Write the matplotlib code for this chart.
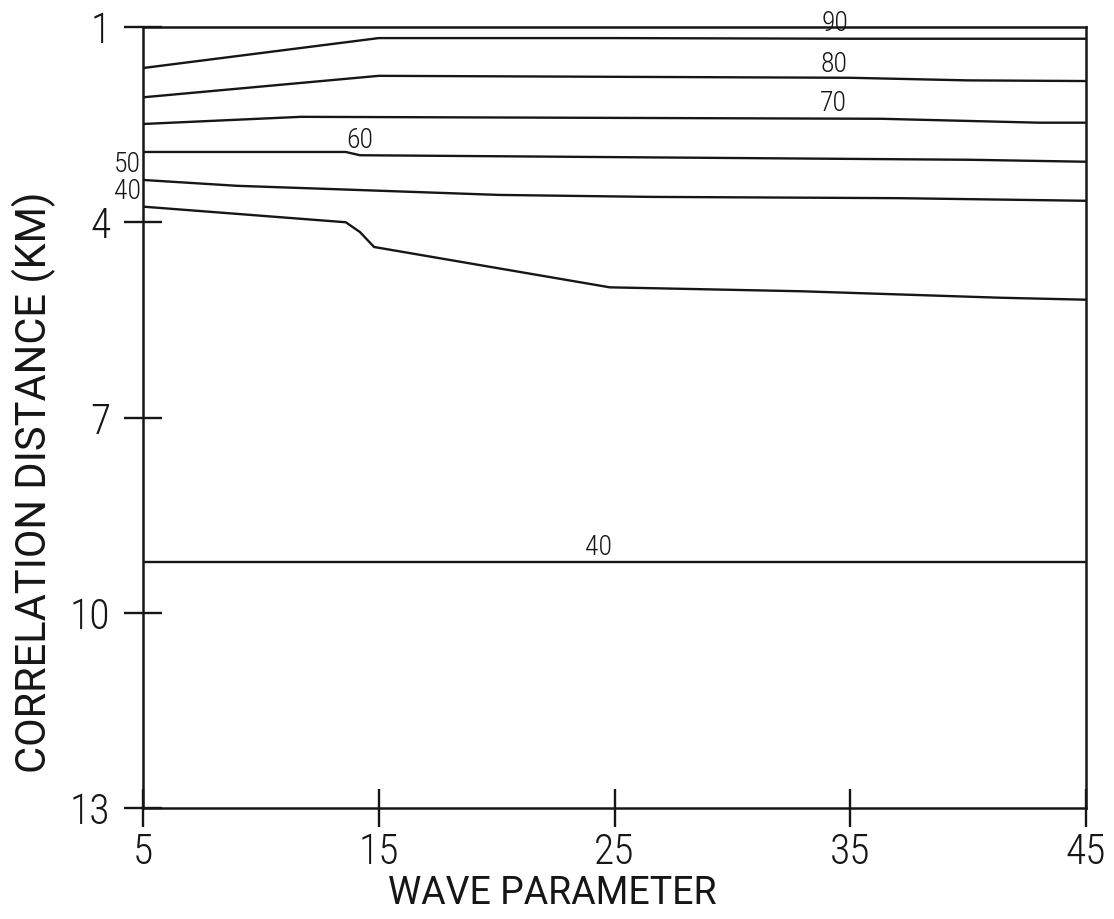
import matplotlib
matplotlib.use("Agg")
import matplotlib.pyplot as plt
from matplotlib import font_manager

# wave parameter along the bottom, correlation distance (km) down the side
x_ticks = [5, 15, 25, 35, 45]
y_ticks = [1, 4, 7, 10, 13]

# contour lines, each one as (wave parameter, correlation distance)
x_90 = [5, 15, 25, 35, 45]
y_90 = [1.63, 1.17, 1.17, 1.18, 1.18]

x_80 = [5, 15, 35, 40, 45]
y_80 = [2.08, 1.75, 1.78, 1.82, 1.83]

x_70 = [5, 11.7, 36.3, 43.0, 45]
y_70 = [2.49, 2.38, 2.41, 2.47, 2.47]

x_60 = [5, 13.6, 14.2, 40.1, 45]
y_60 = [2.92, 2.92, 2.97, 3.04, 3.07]

x_50 = [5, 9.0, 13.8, 20.1, 26.5, 37.1, 45]
y_50 = [3.35, 3.44, 3.50, 3.58, 3.61, 3.63, 3.67]

x_40a = [5, 13.6, 14.2, 14.8, 24.8, 32.9, 41.4, 45]
y_40a = [3.76, 4.00, 4.15, 4.38, 5.00, 5.06, 5.16, 5.19]

x_40b = [5, 25, 45]
y_40b = [9.22, 9.22, 9.22]

contour_levels = ["90", "80", "70", "60", "50", "40", "40"]

# a narrow, thin face looks closest to pen-plotter lettering
names = {f.name for f in font_manager.fontManager.ttflist}
FONT = "DejaVu Sans"
for cand in ["Roboto Condensed", "Liberation Sans Narrow", "Roboto", "Lato"]:
    if cand in names:
        FONT = cand
        break
WIDE = "Roboto" if "Roboto" in names else FONT
plt.rcParams["font.family"] = [FONT, "DejaVu Sans"]
plt.rcParams["font.weight"] = "light"

INK = "#161616"

fig = plt.figure(figsize=(11.14, 9.19), dpi=100)
ax = fig.add_axes([0.1284, 0.1208, 0.8465, 0.8498])

series = [(x_90, y_90), (x_80, y_80), (x_70, y_70), (x_60, y_60),
          (x_50, y_50), (x_40a, y_40a), (x_40b, y_40b)]
for xs, ys in series:
    ax.plot(xs, ys, color=INK, lw=1.7, solid_capstyle="butt")

# level labels written beside the curves
label_spots = [(34.35, 0.95), (34.3, 1.58), (34.3, 2.18), (14.2, 2.74),
               (4.32, 3.12), (4.32, 3.53), (24.3, 8.99)]
for text, (lx, ly) in zip(contour_levels, label_spots):
    ax.text(lx, ly, text, ha="center", va="center", fontsize=20,
            color=INK, clip_on=False)

ax.set_xlim(5, 45)
ax.set_ylim(13, 1)
ax.set_xticks(x_ticks)
ax.set_yticks(y_ticks)
ax.set_xticklabels([str(v) for v in x_ticks], fontsize=30, color=INK)
ax.set_yticklabels([str(v) for v in y_ticks], fontsize=30, color=INK)
ax.tick_params(direction="inout", length=27, width=1.7, color=INK)
ax.tick_params(axis="x", pad=4)
ax.tick_params(axis="y", pad=10)
for sp in ax.spines.values():
    sp.set_linewidth(1.8)
    sp.set_color(INK)

fig.text(552 / 1114, 1 - 894 / 919, "WAVE PARAMETER", ha="center",
         va="center", fontsize=27, color=INK, weight="normal",
         family=[WIDE, "DejaVu Sans"])
fig.text(34 / 1114, 1 - 482 / 919, "CORRELATION DISTANCE (KM)", ha="center",
         va="center", rotation=90, fontsize=30, color=INK, weight="normal",
         family=[WIDE, "DejaVu Sans"])

fig.savefig("out.png", dpi=100, facecolor="white")
